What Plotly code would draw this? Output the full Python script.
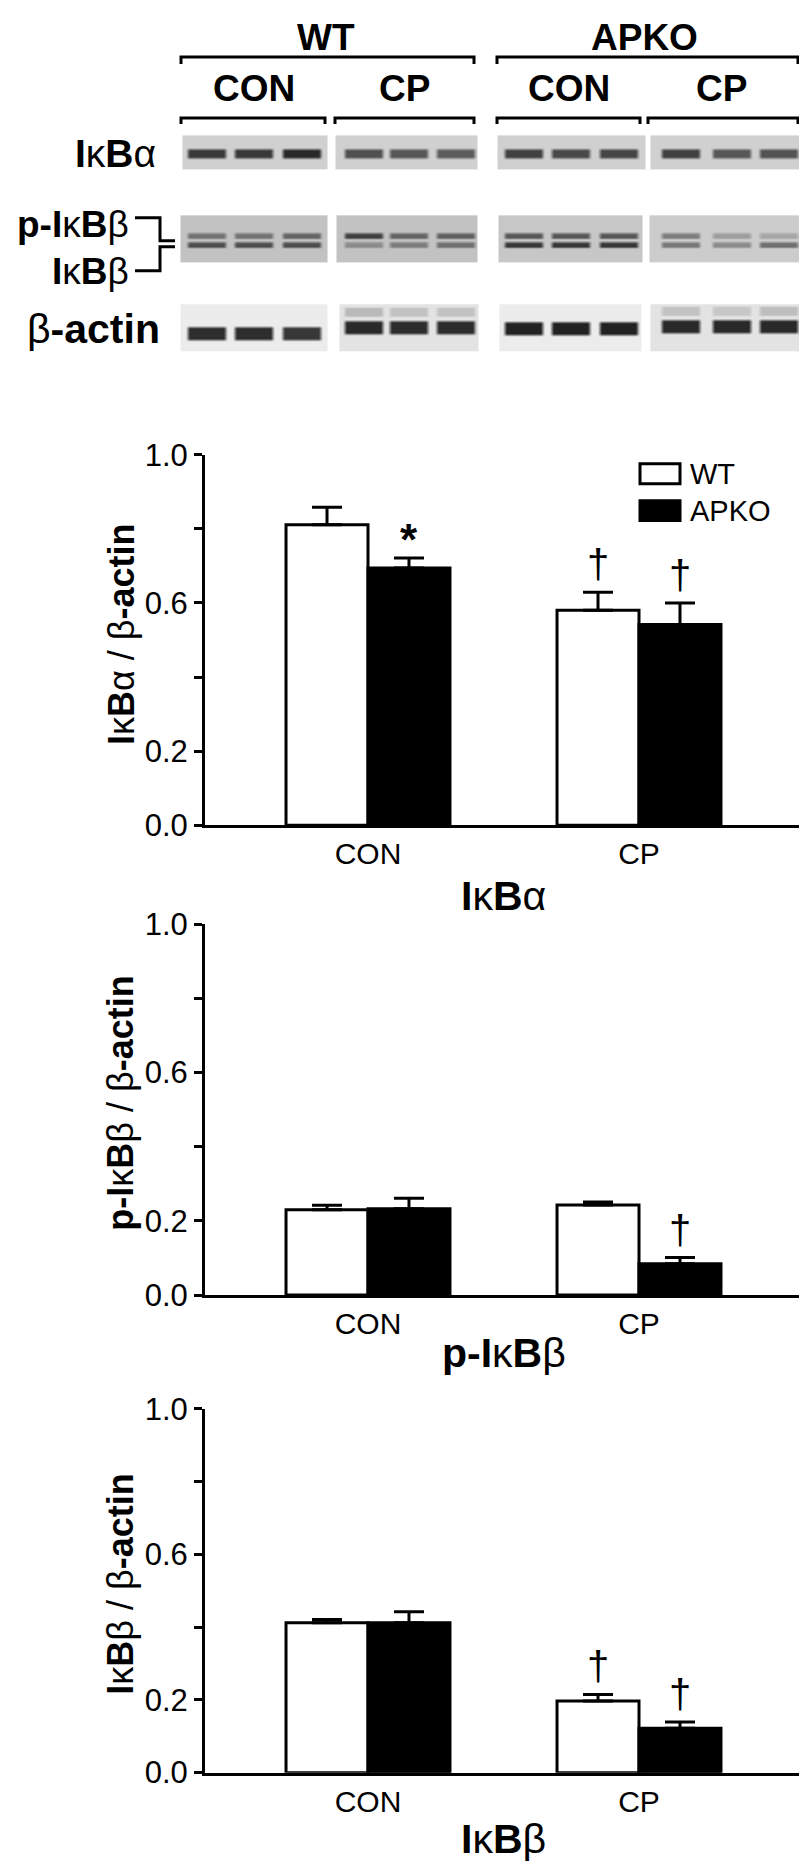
import plotly.graph_objects as go

W, H = 807, 1865
FONT = "Liberation Sans, Arial, sans-serif"

# ----------------- DATA ----------------- #
categories = ["CON", "CP"]

ikba_wt = [0.811, 0.580]
ikba_wt_err = [0.047, 0.049]
ikba_apko = [0.694, 0.542]
ikba_apko_err = [0.027, 0.058]
ikba_wt_sig = ["", "†"]
ikba_apko_sig = ["*", "†"]

pikbb_wt = [0.230, 0.243]
pikbb_wt_err = [0.012, 0.008]
pikbb_apko = [0.233, 0.084]
pikbb_apko_err = [0.028, 0.017]
pikbb_wt_sig = ["", ""]
pikbb_apko_sig = ["", "†"]

ikbb_wt = [0.412, 0.197]
ikbb_wt_err = [0.009, 0.018]
ikbb_apko = [0.412, 0.122]
ikbb_apko_err = [0.030, 0.017]
ikbb_wt_sig = ["", "†"]
ikbb_apko_sig = ["", "†"]

y_tickvals = [0.0, 0.2, 0.4, 0.6, 0.8, 1.0]
y_ticktext = ["0.0", "0.2", "", "0.6", "", "1.0"]

# western blot band darkness (0 = white, 1 = black): WT CON, WT CP, APKO CON, APKO CP (3 lanes each)
blot_ikba = [[0.85, 0.85, 0.92], [0.75, 0.72, 0.70], [0.82, 0.78, 0.80], [0.82, 0.72, 0.74]]
blot_pikbb = [[0.60, 0.60, 0.66], [0.82, 0.66, 0.68], [0.72, 0.72, 0.72], [0.55, 0.42, 0.38]]
blot_ikbb = [[0.76, 0.76, 0.76], [0.50, 0.56, 0.62], [0.86, 0.86, 0.86], [0.58, 0.50, 0.62]]
blot_actin = [[0.90, 0.90, 0.86], [0.92, 0.90, 0.90], [0.95, 0.95, 0.95], [0.92, 0.92, 0.92]]
blot_actin_smear = [[0.0, 0.0, 0.0], [0.30, 0.26, 0.26], [0.0, 0.0, 0.0], [0.26, 0.24, 0.28]]
blot_bg_ikba = [0.20, 0.20, 0.20, 0.20]
blot_bg_ikbb = [0.26, 0.26, 0.24, 0.22]
blot_bg_actin = [0.08, 0.12, 0.08, 0.12]

# ----------------- LAYOUT CONSTANTS (reference pixels) ----------------- #
# the page shows the figure a little lower and squeezed, so positions are mapped
OX, OY, SY = 0, 21, 0.982

lanes = [[198, 245, 293], [355, 400, 447], [515, 562, 610], [672, 723, 770]]
panels_ikba = [(175, 319), (328, 469), (490, 637), (643, 796)]
panels_ikbb = [(173, 319), (329, 469), (491, 634), (642, 797)]
panels_actin = [(173, 319), (332, 470), (492, 633), (643, 795)]
actin_band_y = [330, 324, 325, 323]

chart_top = [451, 921, 1406]
chart_bot = [822, 1292, 1770]
ax_left, ax_right = 197, 794
BARGAP = 0.395


def fx(x):
    return (x - OX) / W


def fy(y):
    return 1 - (y - OY) / SY / H


def blot_panel(x0, x1, lane_x, y0, y1, bands, bg):
    # bands: list of (ycenter, halfheight, fade, lane values)
    xs = [x0, x0 + 1]
    for c in lane_x:
        xs += [c - 21, c - 17, c + 17, c + 21]
    xs += [x1 - 1, x1]
    ys = [y0, y0 + 1]
    rows = [None, None]
    for yc, hh, fd, vals in bands:
        ys += [yc - hh - fd, yc - hh, yc + hh, yc + hh + fd]
        rows += [None, vals, vals, None]
    ys += [y1 - 1, y1]
    rows += [None, None]
    z = []
    for vals in rows:
        row = [bg, bg]
        for k in range(len(lane_x)):
            v = bg if vals is None else max(bg, vals[k])
            row += [bg, v, v, bg]
        row += [bg, bg]
        z.append(row)
    return go.Heatmap(x=xs, y=ys, z=z, zmin=0, zmax=1, zsmooth="best",
                      colorscale=[[0, "#ffffff"], [1, "#161616"]], showscale=False,
                      hoverinfo="skip", xaxis="x4", yaxis="y4")


fig = go.Figure()

# ----------------- BLOTS ----------------- #
for p in range(4):
    fig.add_trace(blot_panel(panels_ikba[p][0], panels_ikba[p][1], lanes[p], 132, 165,
                             [(150, 3, 3, blot_ikba[p])], blot_bg_ikba[p]))
    fig.add_trace(blot_panel(panels_ikbb[p][0], panels_ikbb[p][1], lanes[p], 212, 258,
                             [(232, 1.5, 2.5, blot_pikbb[p]), (241, 1.5, 2.5, blot_ikbb[p])],
                             blot_bg_ikbb[p]))
    ay = actin_band_y[p]
    fig.add_trace(blot_panel(panels_actin[p][0], panels_actin[p][1], lanes[p], 301, 347,
                             [(ay - 16, 4, 2, blot_actin_smear[p]), (ay, 5, 3, blot_actin[p])],
                             blot_bg_actin[p]))

# ----------------- BAR CHARTS ----------------- #
charts = [
    (ikba_wt, ikba_wt_err, ikba_apko, ikba_apko_err, ikba_wt_sig, ikba_apko_sig),
    (pikbb_wt, pikbb_wt_err, pikbb_apko, pikbb_apko_err, pikbb_wt_sig, pikbb_apko_sig),
    (ikbb_wt, ikbb_wt_err, ikbb_apko, ikbb_apko_err, ikbb_wt_sig, ikbb_apko_sig),
]
y_titles = [
    "<b>I</b>κ<b>B</b>α / β<b>-actin</b>",
    "<b>p-I</b>κ<b>B</b>β / β<b>-actin</b>",
    "<b>I</b>κ<b>B</b>β / β<b>-actin</b>",
]
x_titles = ["<b>I</b>κ<b>B</b>α", "<b>p-I</b>κ<b>B</b>β", "<b>I</b>κ<b>B</b>β"]
x_title_y = [893, 1350, 1836]

xpos = list(range(len(categories)))
off = (1 - BARGAP) / 4
annotations = []
span = (ax_right - ax_left) / 271.0
x_range = [-(360 - ax_left) / 271.0, -(360 - ax_left) / 271.0 + span]

for i, (wt, wt_e, ap, ap_e, wt_s, ap_s) in enumerate(charts):
    xa, ya = f"x{i + 1}" if i else "x", f"y{i + 1}" if i else "y"
    err_style = dict(type="data", symmetric=False, arrayminus=[0] * len(categories),
                     color="black", thickness=3, width=15)
    fig.add_trace(go.Bar(x=xpos, y=wt, name="WT", xaxis=xa, yaxis=ya, showlegend=False,
                         marker=dict(color="white", line=dict(color="black", width=3)),
                         error_y=dict(array=wt_e, **err_style)))
    fig.add_trace(go.Bar(x=xpos, y=ap, name="APKO", xaxis=xa, yaxis=ya, showlegend=False,
                         marker=dict(color="black", line=dict(color="black", width=3)),
                         error_y=dict(array=ap_e, **err_style)))
    for vals, errs, sig, dx in [(wt, wt_e, wt_s, -off), (ap, ap_e, ap_s, off)]:
        for k, s in enumerate(sig):
            if not s:
                continue
            star = s == "*"
            annotations.append(dict(
                x=xpos[k] + dx, y=vals[k] + errs[k], xref=xa, yref=ya,
                text=f"<b>{s}</b>" if star else s, showarrow=False, yanchor="bottom",
                yshift=-8 if star else 4,
                font=dict(size=44 if star else 40, color="black", family=FONT)))

    key = "" if i == 0 else str(i + 1)
    fig.layout[f"xaxis{key}"] = dict(
        domain=[fx(ax_left), fx(ax_right)], range=x_range, anchor=ya,
        tickvals=xpos, ticktext=categories, ticks="",
        showline=True, linewidth=3, linecolor="black",
        showgrid=False, zeroline=False, fixedrange=True,
        tickfont=dict(size=30, color="black", family=FONT))
    fig.layout[f"yaxis{key}"] = dict(
        domain=[fy(chart_bot[i]), fy(chart_top[i])], range=[0, 1], anchor=xa,
        tickvals=y_tickvals, ticktext=y_ticktext, ticks="outside", ticklen=8, tickwidth=3,
        tickcolor="black", showline=True, linewidth=3, linecolor="black",
        showgrid=False, zeroline=False, fixedrange=True,
        tickfont=dict(size=31, color="black", family=FONT))

    annotations.append(dict(x=113, y=(chart_top[i] + chart_bot[i]) / 2 - 6, xref="x4", yref="y4",
                            text=y_titles[i], textangle=-90, showarrow=False,
                            font=dict(size=36, color="black", family=FONT)))
    annotations.append(dict(x=(ax_left + ax_right) / 2, y=x_title_y[i], xref="x4", yref="y4",
                            text=x_titles[i], showarrow=False,
                            font=dict(size=41, color="black", family=FONT)))

# ----------------- BLOT LABELS & BRACKETS ----------------- #
big = dict(size=37, color="black", family=FONT)
for txt, x, y in [("<b>WT</b>", 318, 34), ("<b>APKO</b>", 636, 34),
                  ("<b>CON</b>", 246, 85), ("<b>CP</b>", 396, 85),
                  ("<b>CON</b>", 561, 85), ("<b>CP</b>", 713, 85)]:
    annotations.append(dict(x=x, y=y, xref="x4", yref="y4", text=txt, showarrow=False, font=big))
for txt, x, y, fs in [("<b>I</b>κ<b>B</b>α", 150, 150, 39), ("<b>p-I</b>κ<b>B</b>β", 123, 221, 37),
                      ("<b>I</b>κ<b>B</b>β", 123, 268, 37), ("β<b>-actin</b>", 154, 325, 41)]:
    annotations.append(dict(x=x, y=y, xref="x4", yref="y4", text=txt, showarrow=False,
                            xanchor="right", font=dict(size=fs, color="black", family=FONT)))

line = dict(color="black", width=3)
shapes = []
for x0, x1, y0, y1 in [(173, 466, 53, 60), (489, 790, 53, 60),
                       (173, 317, 114, 120), (327, 466, 114, 120),
                       (489, 632, 114, 120), (640, 790, 114, 120)]:
    shapes.append(dict(type="path", path=f"M{x0},{y1} V{y0} H{x1} V{y1}",
                       xref="x4", yref="y4", line=line))
shapes.append(dict(type="path", path="M127,214 H152 V237 H167", xref="x4", yref="y4", line=line))
shapes.append(dict(type="path", path="M167,243 H152 V267 H127", xref="x4", yref="y4", line=line))

# ----------------- LEGEND ----------------- #
legend_items = [("WT", "white"), ("APKO", "black")]
for k, (name, col) in enumerate(legend_items):
    y0 = 460 + k * 37
    shapes.append(dict(type="rect", x0=632, x1=672, y0=y0, y1=y0 + 20, xref="x4", yref="y4",
                       fillcolor=col, line=line))
    annotations.append(dict(x=680, y=y0 + 10, xref="x4", yref="y4", text=name, showarrow=False,
                            xanchor="left", font=dict(size=29, color="black", family=FONT)))

fig.update_layout(
    width=W, height=H, margin=dict(l=0, r=0, t=0, b=0),
    paper_bgcolor="white", plot_bgcolor="rgba(0,0,0,0)",
    barmode="group", bargap=BARGAP, bargroupgap=0,
    xaxis4=dict(domain=[0, 1], range=[OX, OX + W], visible=False, fixedrange=True, anchor="y4"),
    yaxis4=dict(domain=[0, 1], range=[OY + SY * H, OY], visible=False, fixedrange=True, anchor="x4"),
    annotations=annotations, shapes=shapes,
    font=dict(family=FONT, color="black"),
)

fig.write_html("out.html")
